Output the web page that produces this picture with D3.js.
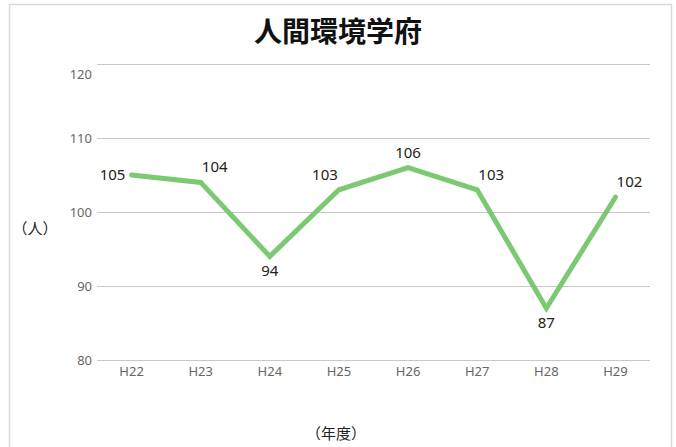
<!DOCTYPE html>
<html>
<head>
    <meta charset="utf-8">
    <title>人間環境学府</title>
    <style>
        body { margin: 0; background: #fff; }
        svg { display: block; font-family: "Noto Sans CJK JP", "Noto Sans", sans-serif; }
        .grid line { stroke: #c8c8c8; stroke-width: 1px; }
        .grid path { display: none; }
        .tick text { fill: #666; font-size: 13px; font-family: "Noto Sans", sans-serif; }
        .value-label { fill: #222; font-size: 15px; font-family: "Noto Sans", sans-serif; }
    </style>
    <script src="https://d3js.org/d3.v7.min.js"></script>
</head>
<body>
    <div id="chart"></div>
    <script>
        const years = ["H22", "H23", "H24", "H25", "H26", "H27", "H28", "H29"];
        const students = [105, 104, 94, 103, 106, 103, 87, 102];
        const yTicks = [80, 90, 100, 110, 120];
        // where each value label sits relative to its point
        const labelSides = ["left", "above-right", "below", "above-left", "above", "above-right", "below", "above-right"];

        const width = 676, height = 447;
        const margin = { top: 64, right: 26, bottom: 87, left: 97 };

        const svg = d3.select("#chart").append("svg")
            .attr("width", width)
            .attr("height", height);

        // outer frame
        svg.append("rect")
            .attr("x", 9.5).attr("y", 4.5)
            .attr("width", 662).attr("height", 460)
            .attr("fill", "none")
            .attr("stroke", "#d9d9d9")
            .attr("stroke-width", 1.5);

        const x = d3.scaleBand()
            .domain(years)
            .range([margin.left, width - margin.right]);

        const y = d3.scaleLinear()
            .domain([80, 120])
            .range([height - margin.bottom, margin.top]);

        // gridlines + y labels
        const yAxis = svg.append("g")
            .attr("class", "grid")
            .attr("transform", `translate(${margin.left},0)`)
            .call(d3.axisLeft(y)
                .tickValues(yTicks)
                .tickSize(-(width - margin.left - margin.right))
                .tickPadding(5));
        yAxis.selectAll(".tick")
            .filter(d => d === 120)
            .select("text")
            .attr("dy", "1.1em");

        // x labels
        svg.append("g")
            .attr("class", "grid")
            .attr("transform", `translate(0,${height - margin.bottom})`)
            .call(d3.axisBottom(x).tickSize(0).tickPadding(7));

        // line
        const line = d3.line()
            .x((d, i) => x(years[i]) + x.bandwidth() / 2)
            .y(d => y(d));

        svg.append("path")
            .datum(students)
            .attr("fill", "none")
            .attr("stroke", "#7dc873")
            .attr("stroke-width", 5)
            .attr("stroke-linejoin", "miter")
            .attr("stroke-linecap", "round")
            .attr("d", line);

        const offsets = {
            "left": [-19, 5, "middle"],
            "above": [0, -10, "middle"],
            "above-right": [14, -10, "middle"],
            "above-left": [-14, -10, "middle"],
            "below": [0, 20, "middle"]
        };

        svg.selectAll(".value-label")
            .data(students)
            .enter().append("text")
            .attr("class", "value-label")
            .attr("x", (d, i) => x(years[i]) + x.bandwidth() / 2 + offsets[labelSides[i]][0])
            .attr("y", d => y(d))
            .attr("dy", (d, i) => offsets[labelSides[i]][1])
            .attr("text-anchor", (d, i) => offsets[labelSides[i]][2])
            .text(d => d);

        // title
        svg.append("text")
            .attr("x", 338).attr("y", 42)
            .attr("text-anchor", "middle")
            .attr("font-size", 28)
            .attr("font-weight", "bold")
            .attr("fill", "#111")
            .text("人間環境学府");

        // axis titles
        svg.append("text")
            .attr("x", 35).attr("y", 234)
            .attr("text-anchor", "middle")
            .attr("font-size", 15)
            .attr("fill", "#222")
            .text("（人）");

        svg.append("text")
            .attr("x", 336).attr("y", 439)
            .attr("text-anchor", "middle")
            .attr("font-size", 15)
            .attr("fill", "#222")
            .text("（年度）");
    </script>
</body>
</html>
